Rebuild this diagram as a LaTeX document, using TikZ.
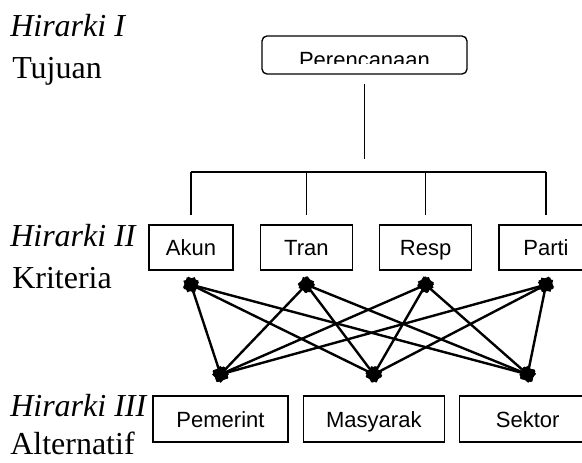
\documentclass[tikz,border=0pt]{standalone}
\usepackage{fontspec}
\setmainfont{Liberation Serif}
\setsansfont{Liberation Sans}
\usetikzlibrary{arrows.meta,positioning}

\begin{document}
\begin{tikzpicture}[
  x=0.75pt, y=-0.75pt, node distance=19.5pt,
  >={Square[length=9pt,width=9pt]},
  T/.style={font=\sffamily\fontsize{16.5}{18}\selectfont},
  B/.style={T, draw, line width=1pt, inner sep=0pt, minimum height=33.75pt,
            text height=12pt, text depth=0pt},
  A/.style={B, minimum height=34.5pt},
  H/.style={anchor=base west, inner sep=0pt, font=\fontsize{24}{28}\selectfont},
  link/.style={<->, line width=1.8pt, shorten <=-4.5pt, shorten >=-4.5pt}]
\useasboundingbox (0,0) rectangle (582,462);
\node[H] (h1) at (10,36) {\textit{Hirarki I}};
\node[H] (t1) at (12,78) {Tujuan};
\node[H] (h2) at (10,246) {\textit{Hirarki II}};
\node[H] (t2) at (12,288) {Kriteria};
\node[H] (h3) at (10,416) {\textit{Hirarki III}};
\node[H] (t3) at (10,454) {Alternatif};

\node[draw, line width=1pt, rounded corners=3.75pt, minimum width=153.75pt,
      minimum height=28.5pt] (goal) at (364.5,55) {};
\coordinate (cut) at (0,63.5);
\begin{scope}
  \clip (goal.north west) rectangle (goal.east |- cut);
  \node[T, anchor=base, inner sep=0pt] (goaltext) at (364.5,67) {Perencanaan};
\end{scope}

\node[B, minimum width=63pt] (akun) at (191,247.5) {Akun};
\node[B, minimum width=69pt, right=of akun] (tran) {Tran};
\node[B, minimum width=69pt, right=of tran] (resp) {Resp};
\node[B, minimum width=70.5pt, right=of resp] (parti) {Parti};

\node[A, minimum width=101.25pt] (pem) at (220.5,419) {Pemerint};
\node[A, minimum width=105.75pt, right=10.5pt of pem] (mas) {Masyarak};
\node[A, minimum width=102pt, right=10.5pt of mas] (sek) {Sektor};

\coordinate (stemtop) at ([yshift=-6.75pt]goal.south);
\coordinate (bar) at (0,172);
\coordinate (stembot) at ([yshift=9.75pt]stemtop |- bar);
\draw[line width=1pt] (stemtop) -- (stembot);
\draw[line width=1pt] (akun.north |- bar) -- (parti.north |- bar);
\foreach \n in {akun,tran,resp,parti}
  \draw[line width=1pt] (\n.north |- bar) -- ([yshift=6.75pt]\n.north);

\foreach \n in {akun,tran,resp,parti}
  \coordinate (\n-dot) at ([yshift=-10.5pt]\n.south);
\foreach \n in {pem,mas,sek}
  \coordinate (\n-dot) at ([yshift=15.75pt]\n.north);
\foreach \c in {akun,tran,resp,parti}
  \foreach \a in {pem,mas,sek}
    \draw[link] (\c-dot) -- (\a-dot);
\end{tikzpicture}
\end{document}
